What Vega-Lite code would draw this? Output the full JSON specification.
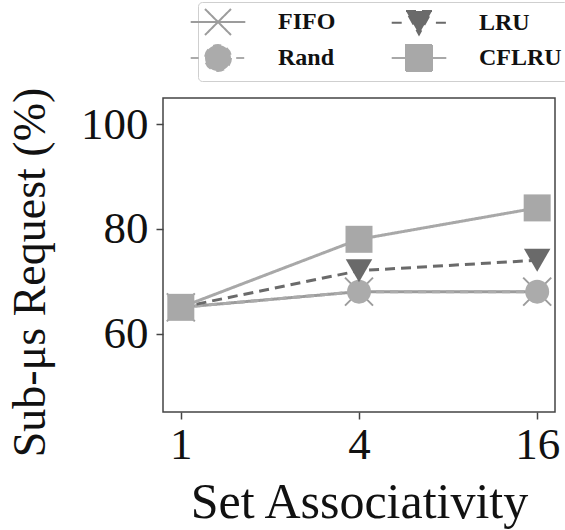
{
  "$schema": "https://vega.github.io/schema/vega-lite/v6.json",
  "width": 392,
  "height": 314,
  "autosize": "none",
  "padding": {"left": 163, "top": 98, "right": 10, "bottom": 118},
  "background": "white",
  "config": {
    "font": "Liberation Serif",
    "view": {"stroke": "#444", "strokeWidth": 1.5},
    "axis": {
      "domain": false,
      "grid": false,
      "tickColor": "#444",
      "tickWidth": 1.5,
      "tickSize": 7,
      "labelFont": "Liberation Serif",
      "labelFontSize": 45,
      "labelColor": "#111",
      "titleFont": "Liberation Serif",
      "titleFontWeight": "normal",
      "titleColor": "#111"
    }
  },
  "data": {
    "values": [
      {"assoc": "1", "series": "FIFO", "value": 65},
      {"assoc": "4", "series": "FIFO", "value": 68},
      {"assoc": "16", "series": "FIFO", "value": 68},
      {"assoc": "1", "series": "Rand", "value": 65},
      {"assoc": "4", "series": "Rand", "value": 68},
      {"assoc": "16", "series": "Rand", "value": 68},
      {"assoc": "1", "series": "LRU", "value": 65},
      {"assoc": "4", "series": "LRU", "value": 72},
      {"assoc": "16", "series": "LRU", "value": 74},
      {"assoc": "1", "series": "CFLRU", "value": 65},
      {"assoc": "4", "series": "CFLRU", "value": 78},
      {"assoc": "16", "series": "CFLRU", "value": 84}
    ]
  },
  "encoding": {
    "x": {
      "field": "assoc",
      "type": "ordinal",
      "sort": ["1", "4", "16"],
      "scale": {"type": "point", "padding": 0.1},
      "axis": {"title": "Set Associativity", "titleFontSize": 50, "labelAngle": 0, "labelPadding": 3, "titlePadding": 10}
    },
    "y": {
      "field": "value",
      "type": "quantitative",
      "scale": {"domain": [45, 105], "nice": false, "zero": false},
      "axis": {"values": [60, 80, 100], "title": "Sub-μs Request (%)", "titleFontSize": 46, "labelPadding": 8, "titlePadding": 26, "titleY": 174}
    },
    "color": {
      "field": "series",
      "type": "nominal",
      "scale": {
        "domain": ["FIFO", "Rand", "LRU", "CFLRU"],
        "range": ["#9c9c9c", "#ababab", "#6a6a6a", "#a8a8a8"]
      },
      "legend": {
        "title": null,
        "orient": "none",
        "legendX": 35,
        "legendY": -96,
        "columns": 2,
        "columnPadding": 51,
        "rowPadding": 2,
        "padding": 6,
        "symbolSize": 676,
        "symbolStrokeWidth": 2,
        "labelFont": "Liberation Serif",
        "labelFontWeight": "bold",
        "labelFontSize": 24,
        "labelColor": "#111",
        "labelOffset": 46,
        "strokeColor": "#cfcfcf",
        "cornerRadius": 4,
        "fillColor": "white"
      }
    }
  },
  "layer": [
    {
      "mark": {"type": "line", "strokeWidth": 3},
      "encoding": {
        "strokeDash": {
          "field": "series",
          "type": "nominal",
          "scale": {"domain": ["FIFO", "Rand", "LRU", "CFLRU"], "range": [[1, 0], [8, 6], [10, 6], [1, 0]]},
          "legend": null
        }
      }
    },
    {
      "transform": [{"filter": "datum.series == 'FIFO'"}],
      "mark": {"type": "point", "filled": false, "strokeWidth": 2, "opacity": 1, "shape": "M-1,-1L1,1M-1,1L1,-1", "size": 784}
    },
    {
      "transform": [{"filter": "datum.series == 'Rand'"}],
      "mark": {"type": "point", "filled": true, "opacity": 1, "shape": "circle", "size": 576}
    },
    {
      "transform": [{"filter": "datum.series == 'LRU'"}],
      "mark": {"type": "point", "filled": true, "opacity": 1, "shape": "triangle-down", "size": 700}
    },
    {
      "transform": [{"filter": "datum.series == 'CFLRU'"}],
      "mark": {"type": "point", "filled": true, "opacity": 1, "shape": "square", "size": 729}
    },
    {
      "transform": [{"filter": "datum.value < 0"}],
      "mark": {"type": "point", "filled": true, "opacity": 1},
      "encoding": {
        "shape": {
          "field": "series",
          "type": "nominal",
          "scale": {
            "domain": ["FIFO", "Rand", "LRU", "CFLRU"],
            "range": [
              "M-1,-1L1,1M-1,1L1,-1M-2.1,0H2.1",
              "M1,0A1,1,0,1,1,-1,0A1,1,0,1,1,1,0ZM-2.1,0H-1.4M1.4,0H2.1",
              "M-1,-0.9L1,-0.9L0,0.9ZM-2.1,0H-1.3M1.3,0H2.1",
              "M-1,-1H1V1H-1ZM-2.1,0H-1M1,0H2.1"
            ]
          }
        },
        "stroke": {
          "field": "series",
          "type": "nominal",
          "scale": {
            "domain": ["FIFO", "Rand", "LRU", "CFLRU"],
            "range": ["#9c9c9c", "#ababab", "#6a6a6a", "#a8a8a8"]
          }
        }
      }
    }
  ]
}
